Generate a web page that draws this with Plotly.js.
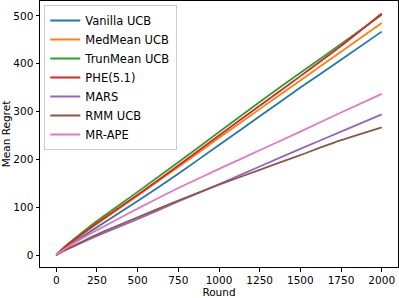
<!DOCTYPE html>
<html>
<head>
<meta charset="utf-8">
<script src="https://cdn.plot.ly/plotly-3.0.1.min.js"></script>
<style>html,body{margin:0;padding:0;background:#fff;}#chart{width:399px;height:298px;}</style>
</head>
<body>
<div id="chart"></div>
<script>
const rounds = [0, 50, 100, 250, 500, 750, 1000, 1250, 1500, 1750, 2000];
const seriesNames = ["Vanilla UCB", "MedMean UCB", "TrunMean UCB", "PHE(5.1)", "MARS", "RMM UCB", "MR-APE"];
const vanillaUCB = [0, 13, 25, 58, 113, 170, 230, 290, 350, 408, 467];
const medMeanUCB = [0, 15, 28, 65, 124, 184, 245, 305, 365, 425, 485];
const trunMeanUCB = [0, 17, 31, 71, 132, 194, 257, 320, 381, 441, 502];
const phe51 = [0, 16, 29, 67, 126, 187, 250, 312, 374, 437, 505];
const mars = [0, 9, 17, 40, 75, 112, 148, 185, 222, 258, 294];
const rmmUCB = [0, 10, 18, 43, 79, 114, 147, 178, 209, 240, 267];
const mrAPE = [0, 12, 23, 52, 97, 140, 180, 219, 258, 298, 337];
const xTicks = [0, 250, 500, 750, 1000, 1250, 1500, 1750, 2000];
const yTicks = [0, 100, 200, 300, 400, 500];

const values = [vanillaUCB, medMeanUCB, trunMeanUCB, phe51, mars, rmmUCB, mrAPE];
const colors = ["#1f77b4", "#ff7f0e", "#2ca02c", "#d62728", "#9467bd", "#8c564b", "#e377c2"];

const traces = seriesNames.map((n, i) => ({
  x: rounds, y: values[i], name: n, type: "scatter", mode: "lines",
  line: {color: colors[i], width: 1.8, shape: "spline", smoothing: 0.5}
}));

const font = {family: "DejaVu Sans", size: 10.5, color: "#000"};
const layout = {
  width: 399, height: 298,
  margin: {l: 40, r: 1, t: 1, b: 31},
  paper_bgcolor: "#fff", plot_bgcolor: "#fff",
  font: font,
  showlegend: true,
  legend: {x: 0.012, y: 0.985, xanchor: "left", yanchor: "top",
    bgcolor: "rgba(255,255,255,0.8)", bordercolor: "#cccccc", borderwidth: 1,
    font: {family: "DejaVu Sans", size: 11.5, color: "#000"}, tracegroupgap: 0, itemwidth: 30},
  xaxis: {range: [-100, 2100], tickvals: xTicks, ticktext: xTicks.map(String),
    showgrid: false, zeroline: false, showline: true, mirror: true, linecolor: "#000", linewidth: 1,
    ticks: "outside", ticklen: 3.5, tickcolor: "#000",
    title: {text: "Round", font: font, standoff: 4}},
  yaxis: {range: [-25, 531], tickvals: yTicks, ticktext: yTicks.map(String),
    showgrid: false, zeroline: false, showline: true, mirror: true, linecolor: "#000", linewidth: 1,
    ticks: "outside", ticklen: 3.5, tickcolor: "#000",
    title: {text: "Mean Regret", font: font, standoff: 4}}
};
Plotly.newPlot("chart", traces, layout, {staticPlot: true, displayModeBar: false});
</script>
</body>
</html>
